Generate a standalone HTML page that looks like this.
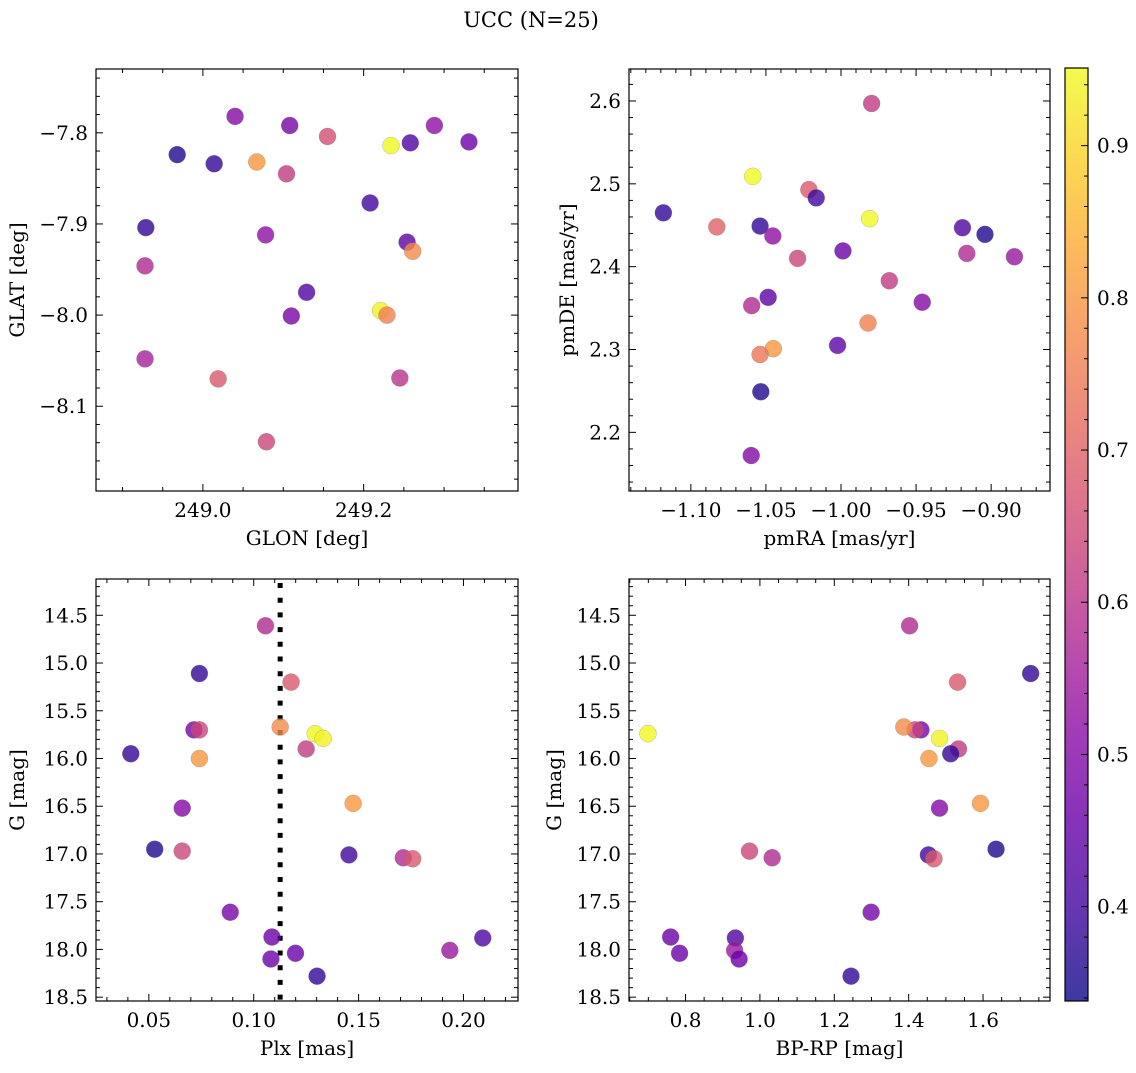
<!DOCTYPE html>
<html><head><meta charset="utf-8"><style>
html,body{margin:0;padding:0;background:#fff;}
svg text{font-family:"DejaVu Serif","Liberation Serif",serif;fill:#000;}
</style></head><body>
<svg id="fig" width="1136" height="1068" viewBox="0 0 1136 1068" xmlns="http://www.w3.org/2000/svg">
<rect width="1136" height="1068" fill="#fff"/>
<text x="531" y="27" font-size="21" text-anchor="middle">UCC (N=25)</text>
</svg>
<script>
// ---- data (panel: position) ----
const glon = [249.040,249.108,249.155,249.234,249.258,249.288,249.331,248.968,249.014,249.067,249.104,249.208,248.929,249.078,249.254,249.261,248.928,249.129,249.221,249.229,249.110,248.928,249.019,249.245,249.079];
const glat = [-7.782,-7.792,-7.804,-7.814,-7.811,-7.792,-7.810,-7.824,-7.834,-7.832,-7.845,-7.877,-7.904,-7.912,-7.920,-7.930,-7.946,-7.975,-7.995,-8.000,-8.001,-8.048,-8.070,-8.069,-8.139];
const probPos = [0.50,0.48,0.66,0.95,0.42,0.52,0.46,0.36,0.38,0.80,0.62,0.40,0.38,0.52,0.44,0.78,0.58,0.42,0.94,0.76,0.48,0.56,0.68,0.60,0.64];
// ---- data (panel: proper motions) ----
const pmra = [-0.9796,-1.0588,-1.0214,-1.0165,-1.1183,-1.0827,-1.0539,-1.0454,-0.9809,-0.9191,-0.9041,-0.9162,-0.8845,-1.0289,-0.9987,-0.9678,-1.0485,-1.0595,-0.9459,-0.9820,-1.0451,-1.0539,-1.0023,-1.0534,-1.0598];
const pmde = [2.597,2.509,2.493,2.483,2.465,2.448,2.449,2.437,2.458,2.447,2.439,2.416,2.412,2.410,2.419,2.383,2.363,2.353,2.357,2.332,2.301,2.294,2.305,2.249,2.172];
const probPm = [0.62,0.95,0.68,0.40,0.38,0.70,0.38,0.52,0.95,0.42,0.36,0.58,0.54,0.64,0.46,0.62,0.44,0.58,0.50,0.76,0.80,0.74,0.44,0.36,0.50];
// ---- data (panels: photometry / parallax) ----
const gmag = [14.61,15.11,15.20,15.70,15.70,15.67,15.74,15.79,15.90,15.95,16.00,16.47,16.52,16.95,16.97,17.01,17.04,17.05,17.61,17.87,17.88,18.04,18.01,18.10,18.28];
const plx = [0.1056,0.0741,0.1178,0.0715,0.0741,0.1126,0.1293,0.1331,0.1250,0.0414,0.0741,0.1474,0.0659,0.0528,0.0659,0.1454,0.1713,0.1758,0.0888,0.1087,0.2092,0.1199,0.1935,0.1082,0.1302];
const bprp = [1.4025,1.728,1.5315,1.433,1.417,1.387,0.699,1.483,1.534,1.513,1.4545,1.593,1.483,1.635,0.972,1.453,1.033,1.468,1.299,0.760,0.934,0.784,0.932,0.944,1.245];
const probPhot = [0.58,0.38,0.68,0.48,0.64,0.78,0.95,0.94,0.62,0.38,0.80,0.80,0.50,0.36,0.64,0.40,0.58,0.68,0.48,0.46,0.42,0.46,0.54,0.46,0.38];
const plxLine = [0.1126];
// ---- tick labels ----
const glonTicks = [249.0,249.2];
const glatTicks = [-7.8,-7.9,-8.0,-8.1];
const pmraTicks = [-1.10,-1.05,-1.00,-0.95,-0.90];
const pmdeTicks = [2.2,2.3,2.4,2.5,2.6];
const plxTicks = [0.05,0.10,0.15,0.20];
const gTicks = [14.5,15.0,15.5,16.0,16.5,17.0,17.5,18.0,18.5];
const bprpTicks = [0.8,1.0,1.2,1.4,1.6];
const cbTicks = [0.4,0.5,0.6,0.7,0.8,0.9];
const vmin = 0.338, vmax = 0.951;

const FS = 20;
const NS = "http://www.w3.org/2000/svg";
const svg = document.getElementById('fig');
function mk(tag, attrs, parent){const e=document.createElementNS(NS,tag);for(const k in attrs)e.setAttribute(k,attrs[k]);(parent||svg).appendChild(e);return e;}
const stops=[[13,8,135],[65,4,157],[106,0,168],[143,13,164],[177,42,144],[204,71,120],[225,100,98],[242,132,75],[252,166,54],[252,206,37],[240,249,33]];
function plasma(t){t=Math.max(0,Math.min(1,t));const f=t*10,i=Math.min(9,Math.floor(f)),r=f-i;const a=stops[i],b=stops[i+1];return 'rgb('+a.map((v,k)=>Math.round(v+(b[k]-v)*r)).join(',')+')';}
function fmt(v,d,abs){if(abs)v=Math.abs(v);return v.toFixed(d).replace('-','\u2212');}

function panel(o){
  const g=mk('g',{});
  
  
  const inv=!!o.invert;
  const sx=v=>o.x0+(v-o.xmin)/(o.xmax-o.xmin)*(o.x1-o.x0);
  const sy=inv?(v=>o.y0+(v-o.ymin)/(o.ymax-o.ymin)*(o.y1-o.y0)):(v=>o.y1-(v-o.ymin)/(o.ymax-o.ymin)*(o.y1-o.y0));
  const tg=mk('g',{stroke:'#000','stroke-width':1},g);
  const eps=1e-9;
  for(let k=Math.ceil(o.xmin/o.xminor-eps);k*o.xminor<=o.xmax+eps;k++){const v=k*o.xminor;const X=sx(v);const maj=o.xt.some(t=>Math.abs(t-v)<o.xminor/4);const L=maj?7:4;
    mk('line',{x1:X,x2:X,y1:o.y1,y2:o.y1-L},tg);mk('line',{x1:X,x2:X,y1:o.y0,y2:o.y0+L},tg);}
  for(let k=Math.ceil(o.ymin/o.yminor-eps);k*o.yminor<=o.ymax+eps;k++){const v=k*o.yminor;const Y=sy(v);const maj=o.yt.some(t=>Math.abs(t-v)<o.yminor/4);const L=maj?7:4;
    mk('line',{x1:o.x0,x2:o.x0+L,y1:Y,y2:Y},tg);mk('line',{x1:o.x1,x2:o.x1-L,y1:Y,y2:Y},tg);}
  o.xt.forEach(v=>{const t=mk('text',{x:sx(v),y:o.y1+26,'font-size':FS,'text-anchor':'middle'},g);t.textContent=fmt(v,o.xd);
    
    });
  o.yt.forEach(v=>{const t=mk('text',{x:o.x0-8,y:sy(v)+7,'font-size':FS,'text-anchor':'end'},g);t.textContent=fmt(v,o.yd);
    
    });
  const xl=mk('text',{x:(o.x0+o.x1)/2,y:o.y1+54,'font-size':FS,'text-anchor':'middle'},g);xl.textContent=o.xlabel;
  
  
  const yl=mk('text',{x:0,y:0,'font-size':FS,'text-anchor':'middle',transform:`translate(${o.ylx},${(o.y0+o.y1)/2}) rotate(-90)`},g);yl.textContent=o.ylabel;
  
  
  if(o.vline){o.vline.forEach(v=>{const l=mk('line',{x1:sx(v),x2:sx(v),y1:o.y0+4,y2:o.y1,stroke:'#000','stroke-width':5,'stroke-dasharray':'5 9.7'},g);
    
    });}
  const pg=mk('g',{},g);
  o.xs.forEach((xv,i)=>{const c=mk('circle',{cx:sx(xv),cy:sy(o.ys[i]),r:8.5,fill:plasma((o.c[i]-vmin)/(vmax-vmin)),'fill-opacity':0.8,stroke:'#777','stroke-width':0.4,'stroke-opacity':0.6},pg);
    
    });
  mk('rect',{x:o.x0,y:o.y0,width:o.x1-o.x0,height:o.y1-o.y0,fill:'none',stroke:'#000','stroke-width':1.2},g);
}
panel({name:'glon-glat-panel',x0:96,x1:518,y0:69,y1:491,xmin:248.867,xmax:249.392,ymin:-8.193,ymax:-7.730,xt:glonTicks,yt:glatTicks,xminor:0.05,yminor:0.02,xd:1,yd:1,xlabel:'GLON [deg]',ylabel:'GLAT [deg]',ylx:24,xs:glon,ys:glat,c:probPos});
panel({name:'pm-panel',x0:629,x1:1050,y0:69,y1:491,xmin:-1.1412,xmax:-0.8608,ymin:2.1292,ymax:2.6386,xt:pmraTicks,yt:pmdeTicks,xminor:0.01,yminor:0.02,xd:2,yd:1,xlabel:'pmRA [mas/yr]',ylabel:'pmDE [mas/yr]',ylx:574,xs:pmra,ys:pmde,c:probPm});
panel({name:'plx-g-panel',invert:true,x0:96,x1:518,y0:579,y1:1001,xmin:0.0248,xmax:0.226,ymin:14.12,ymax:18.54,xt:plxTicks,yt:gTicks,xminor:0.01,yminor:0.1,xd:2,yd:1,xlabel:'Plx [mas]',ylabel:'G [mag]',ylx:24,xs:plx,ys:gmag,c:probPhot,vline:plxLine});
panel({name:'cmd-panel',invert:true,x0:629,x1:1050,y0:579,y1:1001,xmin:0.648,xmax:1.780,ymin:14.12,ymax:18.54,xt:bprpTicks,yt:gTicks,xminor:0.05,yminor:0.1,xd:1,yd:1,xlabel:'BP-RP [mag]',ylabel:'G [mag]',ylx:561,xs:bprp,ys:gmag,c:probPhot});

// colorbar
const cb=mk('g',{});


const cx0=1065,cx1=1088,cy0=68,cy1=1001;
const defs=mk('defs',{},cb);const lg=mk('linearGradient',{id:'cbg',x1:0,y1:1,x2:0,y2:0},defs);
for(let i=0;i<=20;i++){mk('stop',{offset:i/20,'stop-color':plasma(i/20)},lg);}
mk('rect',{x:cx0,y:cy0,width:cx1-cx0,height:cy1-cy0,fill:'url(#cbg)','fill-opacity':0.8},cb);
const cy=v=>cy1-(v-vmin)/(vmax-vmin)*(cy1-cy0);
for(let k=Math.ceil(vmin/0.02);k*0.02<=vmax;k++){const v=k*0.02;const maj=cbTicks.some(t=>Math.abs(t-v)<0.005);const L=maj?7:4;
  mk('line',{x1:cx1,x2:cx1-L,y1:cy(v),y2:cy(v),stroke:'#000','stroke-width':1},cb);}
cbTicks.forEach(v=>{const t=mk('text',{x:cx1+9,y:cy(v)+7,'font-size':FS},cb);t.textContent=v.toFixed(1);
  
  });
mk('rect',{x:cx0,y:cy0,width:cx1-cx0,height:cy1-cy0,fill:'none',stroke:'#000','stroke-width':1.2},cb);
</script>
</body></html>
